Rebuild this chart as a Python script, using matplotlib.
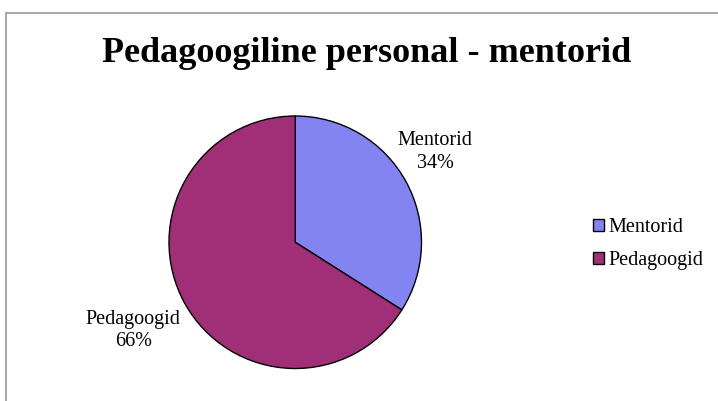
import numpy as np
import matplotlib.pyplot as plt
from matplotlib.patches import Rectangle

# data
labels = ['Mentorid', 'Pedagoogid']
values = [34, 66]
colors = ['#8383F1', '#A12F77']
title = 'Pedagoogiline personal - mentorid'

plt.rcParams['font.family'] = ['Liberation Serif', 'DejaVu Serif']

fig = plt.figure(figsize=(7.18, 4.01), dpi=100)

# chart border
fig.patches.append(Rectangle((6 / 718, -0.1), 1.2, (401 - 13) / 401 + 0.1,
                             transform=fig.transFigure, fill=False,
                             edgecolor='#a0a0a0', linewidth=1.3))

fig.text(367 / 718, 1 - 62 / 401, title, ha='center', va='baseline',
         fontsize=26, fontweight='bold')

ax = fig.add_axes([169 / 718, (401 - 368.5) / 401, 252.5 / 718, 252.5 / 401])
wedges, _ = ax.pie(values, colors=colors, startangle=90, counterclock=False,
                   radius=1, wedgeprops=dict(edgecolor='black', linewidth=1.0))
ax.set_xlim(-1, 1)
ax.set_ylim(-1, 1)
ax.set_aspect('equal')
ax.axis('off')

# data labels outside the slices (distance, angle nudge)
dists = [1.32, 1.46]
nudge = [4.0, -0.3]
total = sum(values)
start = 90
for lab, v, d, n in zip(labels, values, dists, nudge):
    mid = np.deg2rad(start - v / total * 360 / 2 + n)
    start -= v / total * 360
    pct = f'{round(v / total * 100)}%'
    ax.text(d * np.cos(mid), d * np.sin(mid), f'{lab}\n{pct}',
            ha='center', va='center', fontsize=14.5, linespacing=1.22,
            clip_on=False)

fig.legend(wedges, labels, loc='center left',
           bbox_to_anchor=(593 / 718, 1 - 244 / 401), frameon=False,
           fontsize=14.5, handlelength=0.55, handleheight=0.55,
           handletextpad=0.2, labelspacing=0.7, borderpad=0,
           borderaxespad=0)

plt.savefig('out.png', dpi=100)
